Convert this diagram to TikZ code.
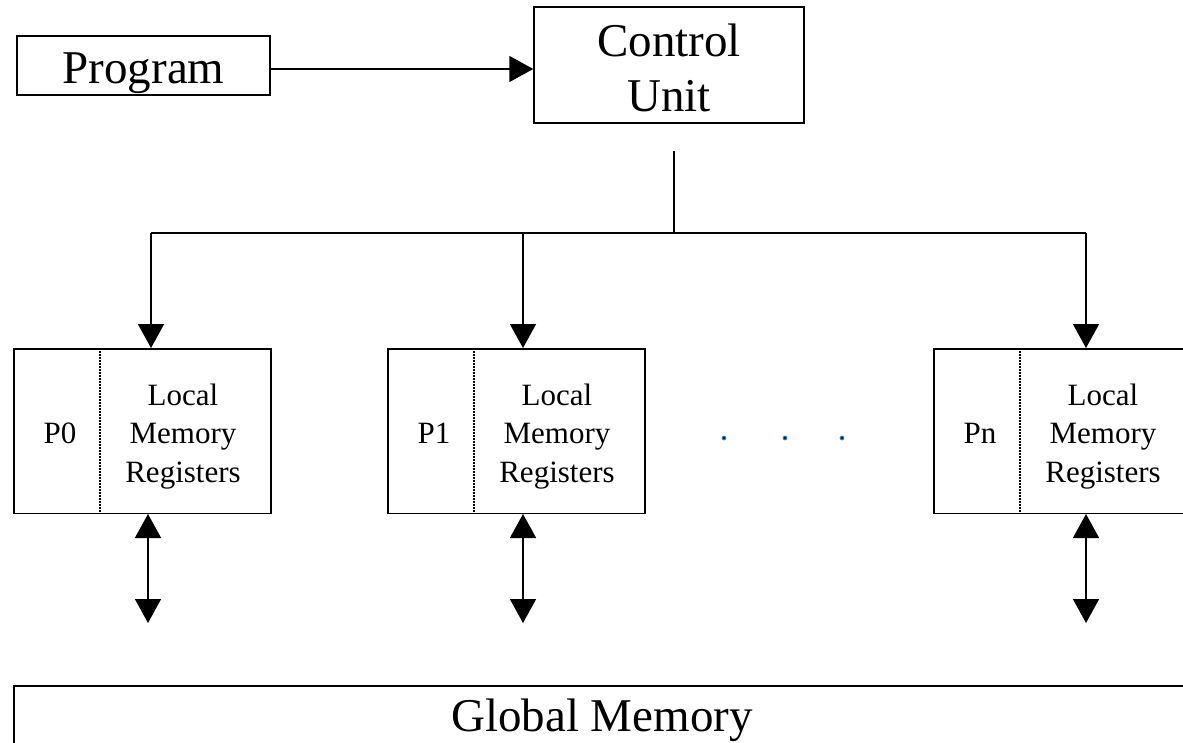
\documentclass[tikz,border=0pt]{standalone}
\usepackage{fontspec}
\setmainfont{Liberation Serif}
\usetikzlibrary{arrows.meta}
\definecolor{dotfill}{RGB}{0,20,90}
\definecolor{dotrim}{RGB}{40,160,230}
\begin{document}
\begin{tikzpicture}[x=1pt,y=-1pt,
  box/.style={draw, line width=1.5pt, inner sep=0pt},
  big/.style={font=\fontsize{47}{55}\selectfont, inner sep=0pt},
  small/.style={font=\fontsize{31}{38.5}\selectfont, inner sep=0pt},
  link/.style={line width=1.5pt},
  >={Triangle[length=24pt,width=26pt]},
  divider/.style={line width=1.2pt, dash pattern=on 1.5pt off 1.5pt},
  dot/.style={fill=dotfill, draw=dotrim, line width=0.7pt}
]
% page area
\clip (0,0) rectangle (1183,742);
\fill[white] (0,0) rectangle (1183,742);

% program and control unit
\node[box, minimum width=253pt, minimum height=59pt] (prog) at (143.5,65.5) {};
\node[big, anchor=base] (progtext) at (143.5,83) {Program};
\node[box, minimum width=270pt, minimum height=116pt] (cu) at (669,65) {};
\node[big, align=center] (cutext) at (669,68) {Control\\Unit};
\draw[link, ->] ([yshift=-3.5pt]prog.east) coordinate (pa) -- (pa -| cu.west);

% broadcast bus from the control unit
\coordinate (cutop) at (674,151);
\coordinate (cubus) at (674,233);
\draw[link] (cutop) -- (cubus);

% processing elements
\foreach \n/\l/\lab/\xi/\xo in {p0/13/P0/151/148, p1/387/P1/523/523, pn/933/Pn/1086/1086} {
  \node[box, minimum width=257pt, minimum height=164.5pt, anchor=north west] (\n) at (\l,348) {};
  \draw[divider] ([xshift=87pt]\n.north west) -- ([xshift=87pt]\n.south west);
  \node[small, anchor=base] (\n-id) at ([xshift=47pt, yshift=-95pt]\n.north west) {\lab};
  \node[small, align=center] (\n-mem) at ([xshift=170pt, yshift=-88.3pt]\n.north west) {Local\\Memory\\Registers};
  \coordinate (\n-bus) at (\xi,233);
  \draw[link, ->] (\n-bus) -- (\n-bus |- \n.north);
  \coordinate (\n-end) at (\xo,623);
  \draw[link, <->] (\n-end |- \n.south) -- (\n-end);
}
\draw[link] (p0-bus) -- (pn-bus);

% ellipsis between P1 and Pn
\foreach \x [count=\i] in {724,785,842}
  \filldraw[dot] (\x,438) circle (2pt) coordinate (dot\i);

% global memory
\node[box, minimum width=1200pt, minimum height=100pt, anchor=north west] (gm) at (13,685) {};
\node[big, anchor=base] (gmtext) at (602,731) {Global Memory};
\end{tikzpicture}
\end{document}
